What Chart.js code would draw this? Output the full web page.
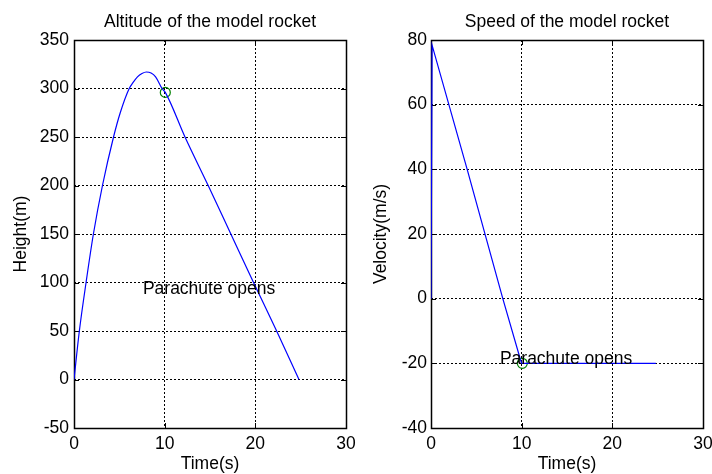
<!DOCTYPE html>
<html><head><meta charset="utf-8">
<script src="https://cdn.jsdelivr.net/npm/chart.js@4"></script>
<style>
html,body{margin:0;padding:0;background:#fff;overflow:hidden}
#wrap{position:relative;width:712px;height:474px;background:#fff}
canvas{position:absolute;top:0}
</style></head><body>
<div id="wrap">
<canvas id="c1" width="356" height="474" style="left:0"></canvas>
<canvas id="c2" width="356" height="474" style="left:356px"></canvas>
</div>
<script>
// ---- data ----
const heightTime   = [0, 0.59, 1.33, 2.14, 3.14, 4.36, 5.1, 6.09, 6.5, 7.0, 7.5, 7.97, 8.5, 9.0, 9.71, 10.07, 12.24, 14.8, 17.3, 19.8, 22.35, 24.81];
const heightValues = [0, 50, 100, 150, 200, 250, 275, 300, 306, 312, 315.5, 317, 316, 312, 300, 296, 250, 200, 150, 100, 50, 0];
const velocityTime   = [0, 0.12, 3.99, 7.92, 9.86, 10.0, 24.8];
const velocityValues = [0, 78.4, 40, 0, -18.8, -20, -20];
const parachuteHeight   = [{x: 10.07, y: 296}];
const parachuteVelocity = [{x: 10.07, y: -20}];
const noteHeight   = {x: 7.6, y: 93};
const noteVelocity = {x: 7.6, y: -18.7};
const timeRange = [0, 30, 10];
const heightRange = [-50, 350, 50];
const velocityRange = [-40, 80, 20];
const labels = {
  hTitle: 'Altitude of the model rocket', vTitle: 'Speed of the model rocket',
  xLabel: 'Time(s)', hY: 'Height(m)', vY: 'Velocity(m/s)', note: 'Parachute opens'
};

const FONT = '"Liberation Sans", Arial, Helvetica, sans-serif';
const FS = 17.5;
Chart.defaults.font.family = FONT;
Chart.defaults.font.size = FS;
Chart.defaults.color = '#000';

const boxPlugin = {
  id: 'box',
  beforeDatasetsDraw(chart) {
    const {ctx, chartArea: a, scales: {x, y}} = chart;
    ctx.save();
    ctx.strokeStyle = '#000';
    ctx.lineWidth = 1.5;
    ctx.strokeRect(a.left + 0.5, a.top + 0.5, a.right - a.left, a.bottom - a.top);
    ctx.lineWidth = 1;
    ctx.beginPath();
    const tl = 5;
    x.ticks.forEach(t => {
      const px = Math.round(x.getPixelForValue(t.value)) + 0.5;
      ctx.moveTo(px, a.bottom); ctx.lineTo(px, a.bottom - tl);
      ctx.moveTo(px, a.top); ctx.lineTo(px, a.top + tl);
    });
    y.ticks.forEach(t => {
      const py = Math.round(y.getPixelForValue(t.value)) + 0.5;
      ctx.moveTo(a.left, py); ctx.lineTo(a.left + tl, py);
      ctx.moveTo(a.right, py); ctx.lineTo(a.right - tl, py);
    });
    ctx.stroke();
    ctx.restore();
  }
};
const notePlugin = {
  id: 'note',
  afterDatasetsDraw(chart, args, opts) {
    const {ctx, scales: {x, y}} = chart;
    ctx.save();
    ctx.font = FS + 'px ' + FONT;
    ctx.fillStyle = '#000';
    ctx.textAlign = 'left';
    ctx.textBaseline = 'middle';
    ctx.fillText(opts.text, x.getPixelForValue(opts.x), y.getPixelForValue(opts.y));
    ctx.restore();
  }
};

function makeChart(id, cfg) {
  return new Chart(document.getElementById(id), {
    type: 'scatter',
    data: {
      datasets: [
        {data: cfg.t.map((t, i) => ({x: t, y: cfg.v[i]})), showLine: true, borderColor: '#0000ff',
         borderWidth: 1.2, pointRadius: 0, fill: false, tension: 0, cubicInterpolationMode: cfg.mono ? 'monotone' : 'default'},
        {data: cfg.marker, showLine: false, pointRadius: 5, pointStyle: 'circle', pointBorderColor: '#008000',
         pointBackgroundColor: 'rgba(0,0,0,0)', pointBorderWidth: 1.2}
      ]
    },
    options: {
      responsive: false, animation: false, devicePixelRatio: 1,
      layout: {padding: {left: 0, right: cfg.padRight, top: 0, bottom: 0}},
      plugins: {
        legend: {display: false}, tooltip: {enabled: false},
        title: {display: true, text: cfg.title, fullSize: false, color: '#000',
                font: {size: FS, weight: 'normal', lineHeight: 1}, padding: {top: 13, bottom: 9.5}},
        note: {text: labels.note, x: cfg.note.x, y: cfg.note.y}
      },
      scales: {
        x: {type: 'linear', min: timeRange[0], max: timeRange[1],
            ticks: {stepSize: timeRange[2], padding: 7, maxRotation: 0, font: {size: FS, lineHeight: 1}},
            grid: {color: '#000', lineWidth: 1, drawTicks: false},
            border: {display: false, dash: [2, 2]},
            title: {display: true, text: labels.xLabel, color: '#000', font: {size: FS, lineHeight: 1}, padding: {top: 0, bottom: 1}},
            afterFit(s) { s.height = 46; s.paddingLeft = 0; s.paddingRight = 0; }},
        y: {type: 'linear', min: cfg.range[0], max: cfg.range[1],
            ticks: {stepSize: cfg.range[2], padding: cfg.tickPad, font: {size: FS, lineHeight: 1}},
            grid: {color: '#000', lineWidth: 1, drawTicks: false},
            border: {display: false, dash: [2, 2]},
            title: {display: true, text: cfg.yLabel, color: '#000', font: {size: FS, lineHeight: 1}, padding: {top: cfg.yTitlePad, bottom: 0}},
            afterFit(s) { s.width = cfg.yWidth; }}
      }
    },
    plugins: [boxPlugin, notePlugin]
  });
}

makeChart('c1', {t: heightTime, v: heightValues, marker: parachuteHeight, note: noteHeight, mono: true,
  title: labels.hTitle, yLabel: labels.hY, range: heightRange, yWidth: 74, padRight: 10, tickPad: 5, yTitlePad: 12});
makeChart('c2', {t: velocityTime, v: velocityValues, marker: parachuteVelocity, note: noteVelocity, mono: false,
  title: labels.vTitle, yLabel: labels.vY, range: velocityRange, yWidth: 75, padRight: 9, tickPad: 4, yTitlePad: 16});
</script>
</body></html>
